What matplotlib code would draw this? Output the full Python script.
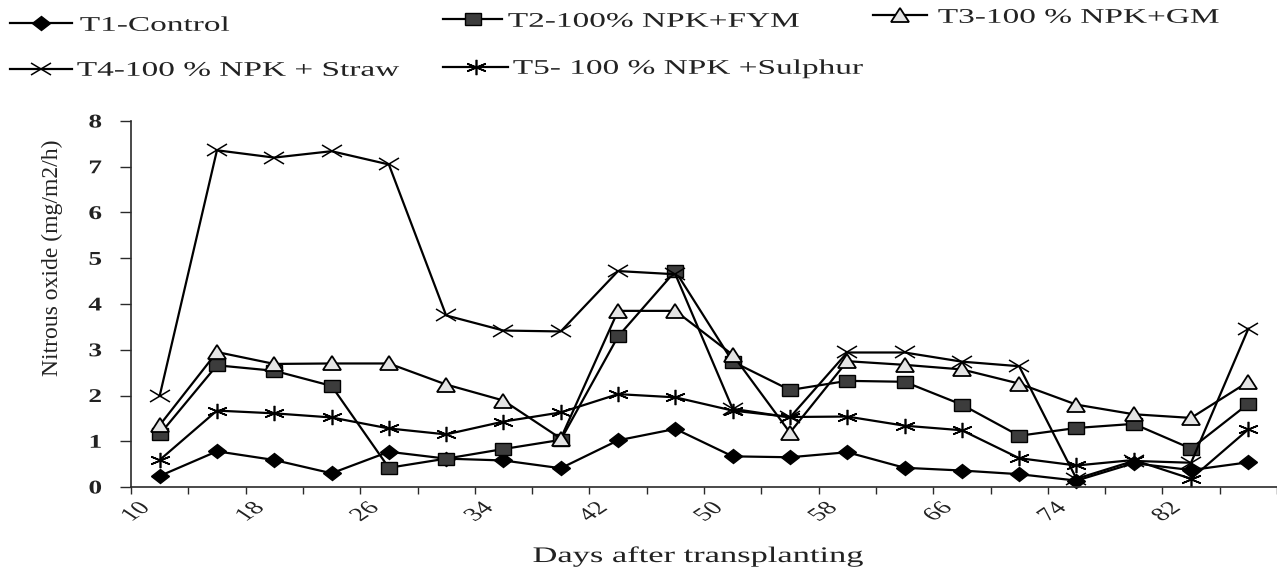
import numpy as np
import matplotlib
matplotlib.use("Agg")
import matplotlib.pyplot as plt
from matplotlib.lines import Line2D
from matplotlib.markers import MarkerStyle
from matplotlib.transforms import Affine2D
from matplotlib.patheffects import AbstractPathEffect

# ---------------- data ----------------
days = [10, 14, 18, 22, 26, 30, 34, 38, 42, 46, 50, 54, 58, 62, 66, 70, 74, 78, 82, 86]
tick_days = [10, 18, 26, 34, 42, 50, 58, 66, 74, 82]
y_ticks = [0, 1, 2, 3, 4, 5, 6, 7, 8]

t1_control = [0.24, 0.78, 0.59, 0.30, 0.77, 0.62, 0.58, 0.41, 1.02, 1.27,
              0.67, 0.65, 0.76, 0.42, 0.36, 0.28, 0.14, 0.52, 0.37, 0.54]
t2_fym = [1.15, 2.66, 2.54, 2.21, 0.42, 0.62, 0.83, 1.03, 3.29, 4.72,
          2.74, 2.12, 2.32, 2.30, 1.80, 1.12, 1.29, 1.38, 0.84, 1.82]
t3_gm = [1.35, 2.95, 2.69, 2.70, 2.70, 2.24, 1.89, 1.06, 3.85, 3.85,
         2.89, 1.19, 2.75, 2.67, 2.57, 2.26, 1.80, 1.59, 1.51, 2.30]
t4_straw = [1.99, 7.36, 7.20, 7.34, 7.05, 3.75, 3.42, 3.40, 4.72, 4.65,
            1.71, 1.52, 2.94, 2.94, 2.74, 2.64, 0.18, 0.57, 0.53, 3.46]
t5_sulphur = [0.59, 1.67, 1.61, 1.52, 1.28, 1.15, 1.43, 1.63, 2.03, 1.96,
              1.67, 1.53, 1.54, 1.34, 1.24, 0.63, 0.47, 0.59, 0.18, 1.26]

series_labels = ["T1-Control", "T2-100% NPK+FYM", "T3-100 % NPK+GM",
                 "T4-100 % NPK + Straw", "T5- 100 % NPK +Sulphur"]
x_label = "Days after transplanting"
y_label = "Nitrous oxide (mg/m2/h)"


# ------------- helper: horizontally widened text rendering -------------
class StretchX(AbstractPathEffect):
    """Draw text widened horizontally around an anchor fraction of its ink box."""
    def __init__(self, sx=1.0, frac=0.0, offset=(0, 0)):
        super().__init__(offset)
        self.sx = sx
        self.frac = frac

    def draw_path(self, renderer, gc, tpath, affine, rgbFace=None):
        bb = tpath.get_extents(affine)
        ax0 = bb.x0 + self.frac * bb.width
        t = (affine + Affine2D().translate(-ax0, 0).scale(self.sx, 1).translate(ax0, 0)
             + self._offset_transform(renderer))
        renderer.draw_path(gc, tpath, t, rgbFace)


W, H = 1277, 571
fig = plt.figure(figsize=(W / 100, H / 100), dpi=100)
fig.patch.set_facecolor("white")

ax_left, ax_bottom, ax_top = 131, 487, 121
ax = fig.add_axes([ax_left / W, (H - ax_bottom) / H, (W - ax_left) / W,
                   (ax_bottom - ax_top) / H])

styles = [
    dict(marker=MarkerStyle("D", transform=Affine2D().scale(1.35, 1)), ms=7,
         mfc="black", mec="black", mew=1),
    dict(marker=MarkerStyle("s", transform=Affine2D().scale(1.3, 1)), ms=8.5,
         mfc="#3c3c3c", mec="black", mew=1),
    dict(marker=MarkerStyle("^", transform=Affine2D().scale(1.3, 1)), ms=9.5,
         mfc="#e4e4e4", mec="black", mew=1.3),
    dict(marker=MarkerStyle("x", transform=Affine2D().scale(1.5, 0.85)), ms=10,
         mfc="none", mec="black", mew=1.1),
    dict(marker=MarkerStyle((6, 2, 0), transform=Affine2D().scale(1.4, 1)), ms=11,
         mfc="none", mec="black", mew=1.2),
]
all_series = [t1_control, t2_fym, t3_gm, t4_straw, t5_sulphur]

cats = [str(d) for d in days]
for vals, lab, st in zip(all_series, series_labels, styles):
    ax.plot(cats, vals, color="black", lw=1.6, label=lab, clip_on=False, **st)

# axes styling
for s in ["top", "right"]:
    ax.spines[s].set_visible(False)
for s in ["left", "bottom"]:
    ax.spines[s].set_linewidth(1.2)
    ax.spines[s].set_color("#2a2a2a")

ax.set_xlim(-0.5, 19.43)
ax.set_ylim(0, 8)
ax.set_yticks(y_ticks)
ax.set_yticklabels([str(v) for v in y_ticks])
ax.tick_params(axis="y", direction="out", length=8, width=1, color="#2a2a2a", pad=13)
for t in ax.get_yticklabels():
    t.set_fontfamily("Liberation Serif")
    t.set_fontweight("bold")
    t.set_fontsize(14)
    t.set_color("#222222")
    t.set_path_effects([StretchX(1.4, frac=1.0)])

ax.set_xticks([cats.index(str(d)) for d in tick_days])
ax.set_xticklabels([str(d) for d in tick_days])
ax.set_xticks(np.arange(-0.5, len(days), 1.0), minor=True)
ax.tick_params(axis="x", which="major", length=0, pad=9)
ax.tick_params(axis="x", which="minor", direction="out", length=5, width=1, color="#2a2a2a")
for t in ax.get_xticklabels():
    t.set_fontfamily("Liberation Serif")
    t.set_fontsize(13.5)
    t.set_rotation(45)
    t.set_ha("right")
    t.set_va("top")
    t.set_color("#222222")
    t.set_path_effects([StretchX(1.5, frac=1.0, offset=(-5, 0))])

xl = ax.set_xlabel(x_label, fontfamily="Liberation Serif", fontsize=16,
                   va="baseline", ha="center", color="#222222")
ax.xaxis.set_label_coords((698 - ax_left) / (W - ax_left), (ax_bottom - 562) / (ax_bottom - ax_top))
xl.set_path_effects([StretchX(1.55, frac=0.5)])

ax.set_ylabel(y_label, fontfamily="Liberation Serif", fontsize=17, va="center",
              color="#222222")
ax.yaxis.set_label_coords((52 - ax_left) / (W - ax_left), (ax_bottom - 258) / (ax_bottom - ax_top))

# legend: one entry per box, laid out like the reference
fs_leg = 15
em = fs_leg * 100 / 72
leg_pos = [  # line start, line end, text start, y centre (pixels)
    (10, 72, 80, 26),
    (443, 502, 508, 22),
    (873, 927, 938, 18),
    (10, 72, 77, 71),
    (443, 508, 513, 69),
]
for lab, st, (x0, x1, xt, yc) in zip(series_labels, styles, leg_pos):
    h = Line2D([], [], color="black", lw=1.6, **st)
    leg = fig.legend([h], [lab], loc="center left", bbox_to_anchor=(x0 / W, 1 - yc / H),
                     frameon=False, borderpad=0, borderaxespad=0,
                     handlelength=(x1 - x0) / em, handletextpad=(xt - x1) / em,
                     prop={"family": "Liberation Serif", "size": fs_leg})
    for t in leg.get_texts():
        t.set_color("#222222")
        t.set_path_effects([StretchX(1.6, frac=0.0)])

fig.savefig("out.png", dpi=100, facecolor="white")
